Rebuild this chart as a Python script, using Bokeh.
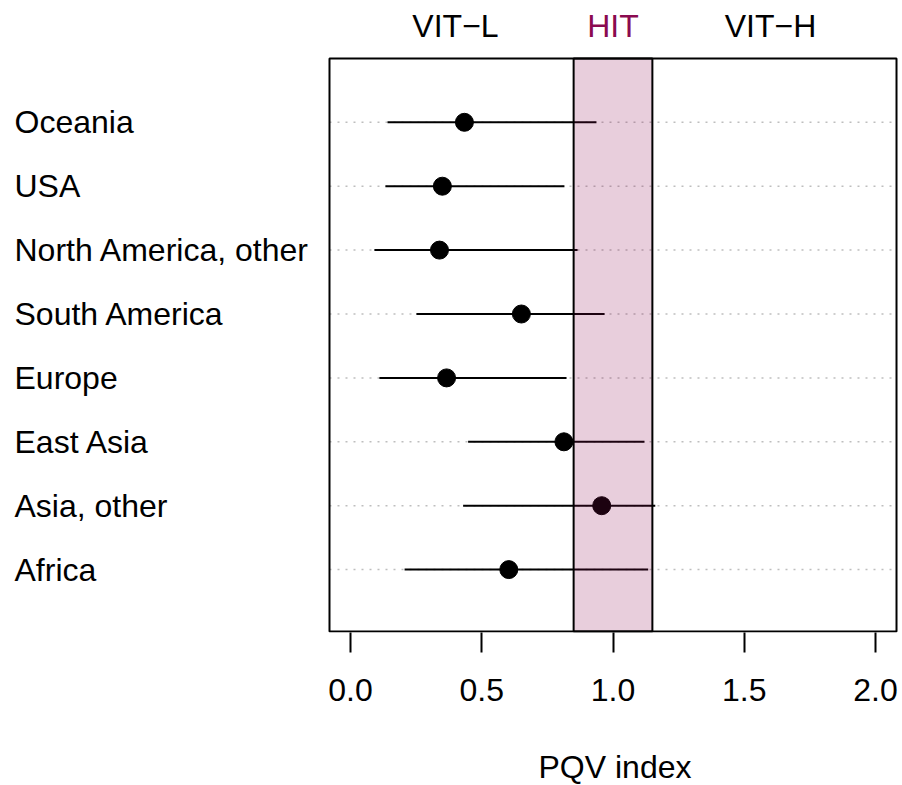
from bokeh.plotting import figure
from bokeh.models import FixedTicker, Label, Title, LinearAxis
from bokeh.embed import file_html
from bokeh.resources import INLINE

# ---- data ----
regions = ["Oceania", "USA", "North America, other", "South America",
           "Europe", "East Asia", "Asia, other", "Africa"]
pqv = [0.434, 0.350, 0.339, 0.651, 0.366, 0.813, 0.957, 0.603]
ci_low = [0.141, 0.133, 0.091, 0.251, 0.110, 0.448, 0.429, 0.206]
ci_high = [0.937, 0.815, 0.865, 0.968, 0.823, 1.120, 1.161, 1.134]
hit_band = [0.85, 1.15]
zone_labels = ["VIT\u2212L", "HIT", "VIT\u2212H"]
zone_pos = [0.4, 1.0, 1.6]
zone_colors = ["black", "#8B0A50", "black"]
x_ticks = [0.0, 0.5, 1.0, 1.5, 2.0]
x_tick_labels = ["0.0", "0.5", "1.0", "1.5", "2.0"]
x_title = "PQV index"

n = len(regions)
ys = [n - i for i in range(n)]

FONT = "Liberation Sans"
FS = "32px"

# plot box (R-style usr region)
BOX_L, BOX_R, BOX_B, BOX_T = -0.08, 2.08, 0.03, 9.0

p = figure(width=900, height=784, x_range=(-1.3333, 2.0952),
           y_range=(0.015625, 9.90625),
           output_backend="svg", toolbar_location=None, y_axis_location=None,
           min_border_left=0, min_border_right=0, min_border_top=0,
           min_border_bottom=151)
p.grid.visible = False
p.outline_line_color = None
p.background_fill_color = "white"
p.border_fill_color = "white"

ax = p.xaxis[0]
ax.ticker = FixedTicker(ticks=x_ticks)
ax.major_label_overrides = dict(zip(x_ticks, x_tick_labels))
ax.axis_line_color = None
ax.major_tick_in = 0
ax.major_tick_out = 20
ax.major_tick_line_width = 2
ax.major_tick_line_color = "black"
ax.minor_tick_line_color = None
ax.major_label_text_font = FONT
ax.major_label_text_font_size = FS
ax.major_label_text_color = "black"
ax.major_label_standoff = 26

# invisible spacer axis between tick labels and the title
spacer = LinearAxis(ticker=FixedTicker(ticks=[x_ticks[0]]), axis_line_color=None,
                    major_tick_in=0, major_tick_out=43,
                    major_tick_line_color=None, minor_tick_line_color=None,
                    major_label_standoff=0, major_label_text_font_size="1px",
                    major_label_overrides={x_ticks[0]: ""})
p.add_layout(spacer, "below")

# x axis title, centred under the plot box
p.add_layout(Title(text=x_title, align="left", offset=538, standoff=0,
                   text_font=FONT, text_font_size=FS, text_font_style="normal",
                   text_color="black"), "below")

# dotted guide lines
p.segment(x0=[BOX_L] * n, y0=ys, x1=[BOX_R] * n, y1=ys,
          line_color="#BEBEBE", line_width=1.5, line_dash="2 6")
# confidence intervals
p.segment(x0=ci_low, y0=ys, x1=ci_high, y1=ys, line_color="black", line_width=2)
# points
p.scatter(x=pqv, y=ys, size=18, fill_color="black", line_color="black")
# HIT band
p.quad(left=[hit_band[0]], right=[hit_band[1]], bottom=[BOX_B], top=[BOX_T],
       fill_color="#8B0A50", fill_alpha=0.2, line_color="black", line_width=2)
# plot box
p.quad(left=[BOX_L], right=[BOX_R], bottom=[BOX_B], top=[BOX_T],
       fill_color=None, line_color="black", line_width=2)

# region labels (left aligned in margin)
for name, y in zip(regions, ys):
    p.add_layout(Label(x=-1.28, y=y, text=name, text_align="left",
                       text_baseline="middle", text_font=FONT,
                       text_font_size=FS, text_color="black"))

# zone labels above the box
for t, xp, c in zip(zone_labels, zone_pos, zone_colors):
    p.add_layout(Label(x=xp, y=9.51, text=t, text_align="center",
                       text_baseline="middle", text_font=FONT,
                       text_font_size=FS, text_color=c))

open("out.html", "w").write(file_html(p, INLINE))
